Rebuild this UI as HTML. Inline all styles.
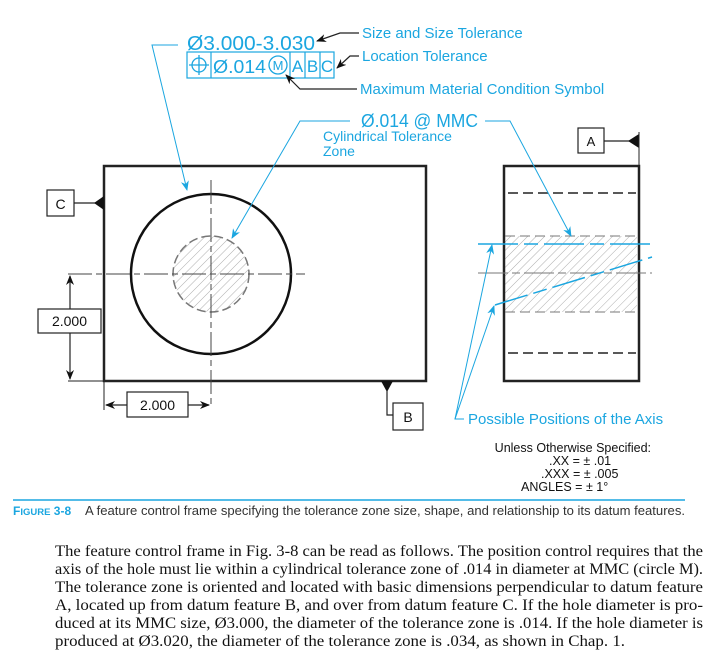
<!DOCTYPE html>
<html><head><meta charset="utf-8"><style>
html,body{margin:0;padding:0;background:#fff;width:718px;height:655px;overflow:hidden}
svg{display:block}
.b{fill:#1ba6e0;font-family:"Liberation Sans",sans-serif}
.k{fill:#111;font-family:"Liberation Sans",sans-serif}
.p{fill:#111;font-family:"Liberation Serif",serif;font-size:15.5px}
</style></head><body>
<svg width="718" height="655" viewBox="0 0 718 655" xmlns="http://www.w3.org/2000/svg">
<defs>
<pattern id="h" width="6" height="6" patternUnits="userSpaceOnUse" patternTransform="rotate(45)">
<line x1="0" y1="0" x2="0" y2="6" stroke="#999" stroke-width="0.8"/></pattern>
<marker id="ab" markerWidth="10" markerHeight="8" refX="9" refY="4" orient="auto-start-reverse" markerUnits="userSpaceOnUse"><path d="M0,0 L10,4 L0,8 L3,4z" fill="#1ba6e0"/></marker>
<marker id="ak" markerWidth="10" markerHeight="8" refX="9" refY="4" orient="auto-start-reverse" markerUnits="userSpaceOnUse"><path d="M0,0 L10,4 L0,8 L3,4z" fill="#111"/></marker>
</defs>

<!-- Left view -->
<rect x="104" y="166" width="322" height="215" fill="none" stroke="#222" stroke-width="2.5"/>
<circle cx="211" cy="274" r="38" fill="url(#h)" stroke="#777" stroke-width="1.5" stroke-dasharray="9,4"/>
<circle cx="211" cy="274" r="80" fill="none" stroke="#111" stroke-width="2.5"/>
<line x1="68" y1="274" x2="305" y2="274" stroke="#444" stroke-width="1" stroke-dasharray="24,4,6,4"/>
<line x1="211" y1="180" x2="211" y2="408" stroke="#444" stroke-width="1" stroke-dasharray="24,4,6,4"/>
<!-- C datum -->
<rect x="47" y="190" width="27" height="26" fill="#fff" stroke="#222" stroke-width="1.2"/>
<text x="60.5" y="209" class="k" font-size="14" text-anchor="middle">C</text>
<line x1="74" y1="203" x2="98" y2="203" stroke="#222" stroke-width="1.2"/>
<path d="M104,196 L94,203 L104,210z" fill="#111"/>
<!-- vertical dim -->
<line x1="68" y1="381" x2="104" y2="381" stroke="#222" stroke-width="1"/>
<line x1="70" y1="276" x2="70" y2="379" stroke="#222" stroke-width="1.2" marker-start="url(#ak)" marker-end="url(#ak)"/>
<rect x="38" y="309" width="63" height="24" fill="#fff" stroke="#222" stroke-width="1.2"/>
<text x="69.5" y="326" class="k" font-size="14" text-anchor="middle">2.000</text>
<!-- horizontal dim -->
<line x1="104" y1="381" x2="104" y2="410" stroke="#222" stroke-width="1"/>
<line x1="106" y1="405" x2="209" y2="405" stroke="#222" stroke-width="1.2" marker-start="url(#ak)" marker-end="url(#ak)"/>
<rect x="127" y="392" width="61" height="25" fill="#fff" stroke="#222" stroke-width="1.2"/>
<text x="157.5" y="410" class="k" font-size="14" text-anchor="middle">2.000</text>
<!-- B datum -->
<path d="M381,381 L393,381 L387,392z" fill="#111"/>
<polyline points="387,390 387,415 393,415" fill="none" stroke="#222" stroke-width="1.2"/>
<rect x="393" y="403" width="30" height="27" fill="#fff" stroke="#222" stroke-width="1.2"/>
<text x="408" y="422" class="k" font-size="14" text-anchor="middle">B</text>

<!-- Right view -->
<rect x="505" y="236" width="132" height="76" fill="url(#h)"/>
<rect x="504" y="166" width="135" height="215" fill="none" stroke="#222" stroke-width="2.5"/>
<line x1="508" y1="193" x2="636" y2="193" stroke="#222" stroke-width="1.5" stroke-dasharray="10,5"/>
<line x1="508" y1="353" x2="636" y2="353" stroke="#222" stroke-width="1.5" stroke-dasharray="10,5"/>
<line x1="505" y1="236" x2="640" y2="236" stroke="#777" stroke-width="1" stroke-dasharray="10,5"/>
<line x1="505" y1="312" x2="640" y2="312" stroke="#777" stroke-width="1" stroke-dasharray="10,5"/>
<line x1="478" y1="273" x2="652" y2="273" stroke="#777" stroke-width="1" stroke-dasharray="30,4,8,4"/>
<line x1="478" y1="244" x2="652" y2="244" stroke="#1ba6e0" stroke-width="1.5" stroke-dasharray="40,6,14,6"/>
<line x1="495" y1="305" x2="652" y2="257" stroke="#1ba6e0" stroke-width="1.5" stroke-dasharray="34,6,14,6"/>
<!-- A datum -->
<rect x="578" y="128" width="26" height="25" fill="#fff" stroke="#222" stroke-width="1.2"/>
<text x="591" y="146" class="k" font-size="13" text-anchor="middle">A</text>
<line x1="604" y1="141" x2="632" y2="141" stroke="#222" stroke-width="1.2"/>
<path d="M628,141 L639,134 L639,148z" fill="#111"/>
<line x1="639" y1="132" x2="639" y2="166" stroke="#222" stroke-width="1"/>

<!-- FCF -->
<text x="187" y="50" class="b" font-size="20" textLength="128" lengthAdjust="spacingAndGlyphs">Ø3.000-3.030</text>
<rect x="187" y="52" width="147" height="26" fill="none" stroke="#1ba6e0" stroke-width="1.2"/>
<line x1="211" y1="52" x2="211" y2="78" stroke="#1ba6e0" stroke-width="1.2"/>
<line x1="290" y1="52" x2="290" y2="78" stroke="#1ba6e0" stroke-width="1.2"/>
<line x1="305" y1="52" x2="305" y2="78" stroke="#1ba6e0" stroke-width="1.2"/>
<line x1="320" y1="52" x2="320" y2="78" stroke="#1ba6e0" stroke-width="1.2"/>
<circle cx="199" cy="65" r="7" fill="none" stroke="#1ba6e0" stroke-width="1.3"/>
<line x1="189" y1="65" x2="209" y2="65" stroke="#1ba6e0" stroke-width="1.3"/>
<line x1="199" y1="55" x2="199" y2="75" stroke="#1ba6e0" stroke-width="1.3"/>
<text x="213" y="73" class="b" font-size="18" textLength="53" lengthAdjust="spacingAndGlyphs">Ø.014</text>
<circle cx="278" cy="65" r="9" fill="none" stroke="#1ba6e0" stroke-width="1.3"/>
<text x="278" y="70" class="b" font-size="13" text-anchor="middle">M</text>
<text x="297.5" y="72" class="b" font-size="17" text-anchor="middle">A</text>
<text x="312.5" y="72" class="b" font-size="17" text-anchor="middle">B</text>
<text x="327" y="72" class="b" font-size="17" text-anchor="middle">C</text>
<!-- FCF leaders -->
<polyline points="359,33 340,33 317,41" fill="none" stroke="#222" stroke-width="1.2" marker-end="url(#ak)"/>
<text x="362" y="38" class="b" font-size="15">Size and Size Tolerance</text>
<polyline points="359,56 350,56 337,68" fill="none" stroke="#222" stroke-width="1.2" marker-end="url(#ak)"/>
<text x="362" y="61" class="b" font-size="15">Location Tolerance</text>
<polyline points="357,89 300,89 286,75" fill="none" stroke="#222" stroke-width="1.2" marker-end="url(#ak)"/>
<text x="360" y="94" class="b" font-size="15">Maximum Material Condition Symbol</text>
<polyline points="178,45 152,45 187,190" fill="none" stroke="#1ba6e0" stroke-width="1" marker-end="url(#ab)"/>
<!-- MMC zone -->
<text x="361" y="127" class="b" font-size="18" textLength="117" lengthAdjust="spacingAndGlyphs">Ø.014 @ MMC</text>
<text x="323" y="141" class="b" font-size="14">Cylindrical Tolerance</text>
<text x="323" y="156" class="b" font-size="14">Zone</text>
<polyline points="350,121 300,121 232,238" fill="none" stroke="#1ba6e0" stroke-width="1" marker-end="url(#ab)"/>
<polyline points="485,121 510,121 571,236" fill="none" stroke="#1ba6e0" stroke-width="1" marker-end="url(#ab)"/>
<!-- possible positions -->
<polyline points="464,419 455,419 492,245" fill="none" stroke="#1ba6e0" stroke-width="1" marker-end="url(#ab)"/>
<line x1="455" y1="419" x2="494" y2="306" stroke="#1ba6e0" stroke-width="1" marker-end="url(#ab)"/>
<text x="468" y="424" class="b" font-size="15">Possible Positions of the Axis</text>

<text x="651" y="452" class="k" font-size="12.5" text-anchor="end">Unless Otherwise Specified:</text>
<text x="549" y="465" class="k" font-size="12.5">.XX = ± .01</text>
<text x="541" y="478" class="k" font-size="12.5">.XXX = ± .005</text>
<text x="521" y="491" class="k" font-size="12.5">ANGLES = ±  1°</text>

<!-- caption -->
<line x1="13" y1="500" x2="685" y2="500" stroke="#1ba6e0" stroke-width="1.5"/>
<text x="13" y="515" class="b" font-size="12" font-weight="bold">F<tspan font-size="9.5">IGURE</tspan> 3-8</text>
<text x="85" y="515" fill="#333" font-family="Liberation Sans,sans-serif" font-size="12.5" textLength="600" lengthAdjust="spacingAndGlyphs">A feature control frame specifying the tolerance zone size, shape, and relationship to its datum features.</text>

<!-- paragraph -->
<text x="55" y="556" class="p" textLength="648" lengthAdjust="spacingAndGlyphs">The feature control frame in Fig. 3-8 can be read as follows. The position control requires that the</text>
<text x="55" y="574" class="p" textLength="648" lengthAdjust="spacingAndGlyphs">axis of the hole must lie within a cylindrical tolerance zone of .014 in diameter at MMC (circle M).</text>
<text x="55" y="592" class="p" textLength="648" lengthAdjust="spacingAndGlyphs">The tolerance zone is oriented and located with basic dimensions perpendicular to datum feature</text>
<text x="55" y="610" class="p" textLength="648" lengthAdjust="spacingAndGlyphs">A, located up from datum feature B, and over from datum feature C. If the hole diameter is pro-</text>
<text x="55" y="628" class="p" textLength="648" lengthAdjust="spacingAndGlyphs">duced at its MMC size, Ø3.000, the diameter of the tolerance zone is .014. If the hole diameter is</text>
<text x="55" y="646" class="p" textLength="570" lengthAdjust="spacingAndGlyphs">produced at Ø3.020, the diameter of the tolerance zone is .034, as shown in Chap. 1.</text>
</svg>
</body></html>
